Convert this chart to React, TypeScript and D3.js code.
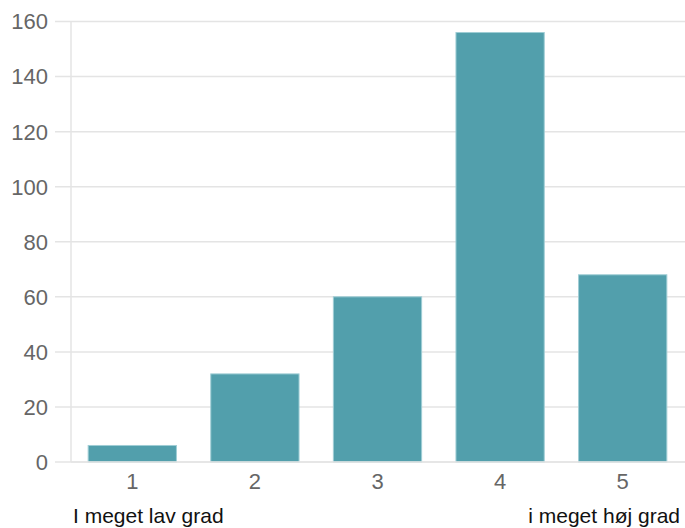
import React from "react";
import * as d3 from "d3";

const categories = ["1", "2", "3", "4", "5"];
const values = [6, 32, 60, 156, 68];
const yTicks = [0, 20, 40, 60, 80, 100, 120, 140, 160];
const leftLabel = "I meget lav grad";
const rightLabel = "i meget høj grad";

export default function App() {
  const W = 685, H = 528;
  const left = 71, right = 684, top = 21.5, bottom = 462;
  const x = d3.scaleBand<string>().domain(categories).range([left, right]).paddingInner(0.28).paddingOuter(0.14);
  const y = d3.scaleLinear().domain([0, 160]).range([bottom, top]);
  const font = "'Liberation Sans', Arial, sans-serif";
  return (
    <svg width={W} height={H} style={{ position: "absolute", left: 0, top: 0 }}>
      {yTicks.map((t) => (
        <g key={t}>
          <line x1={55} x2={W} y1={y(t)} y2={y(t)} stroke="#e4e4e4" strokeWidth={1.5} />
          <text x={48} y={y(t)} dy="0.36em" textAnchor="end" fontFamily={font} fontSize={22} fill="#666">{t}</text>
        </g>
      ))}
      <line x1={left} x2={left} y1={top} y2={bottom} stroke="#e4e4e4" strokeWidth={1.5} />
      {categories.map((c, i) => (
        <g key={c}>
          <rect x={x(c)!} y={y(values[i])} width={x.bandwidth()} height={bottom - y(values[i])}
            fill="#529fac" stroke="#9fcdd5" strokeWidth={1} />
          <text x={x(c)! + x.bandwidth() / 2} y={489} textAnchor="middle" fontFamily={font} fontSize={22} fill="#666">{c}</text>
        </g>
      ))}
      <line x1={left} x2={W} y1={bottom} y2={bottom} stroke="#e4e4e4" strokeWidth={1.5} />
      <text x={73} y={523} fontFamily={font} fontSize={21} fill="#111">{leftLabel}</text>
      <text x={680} y={523} textAnchor="end" fontFamily={font} fontSize={21} fill="#111">{rightLabel}</text>
    </svg>
  );
}
